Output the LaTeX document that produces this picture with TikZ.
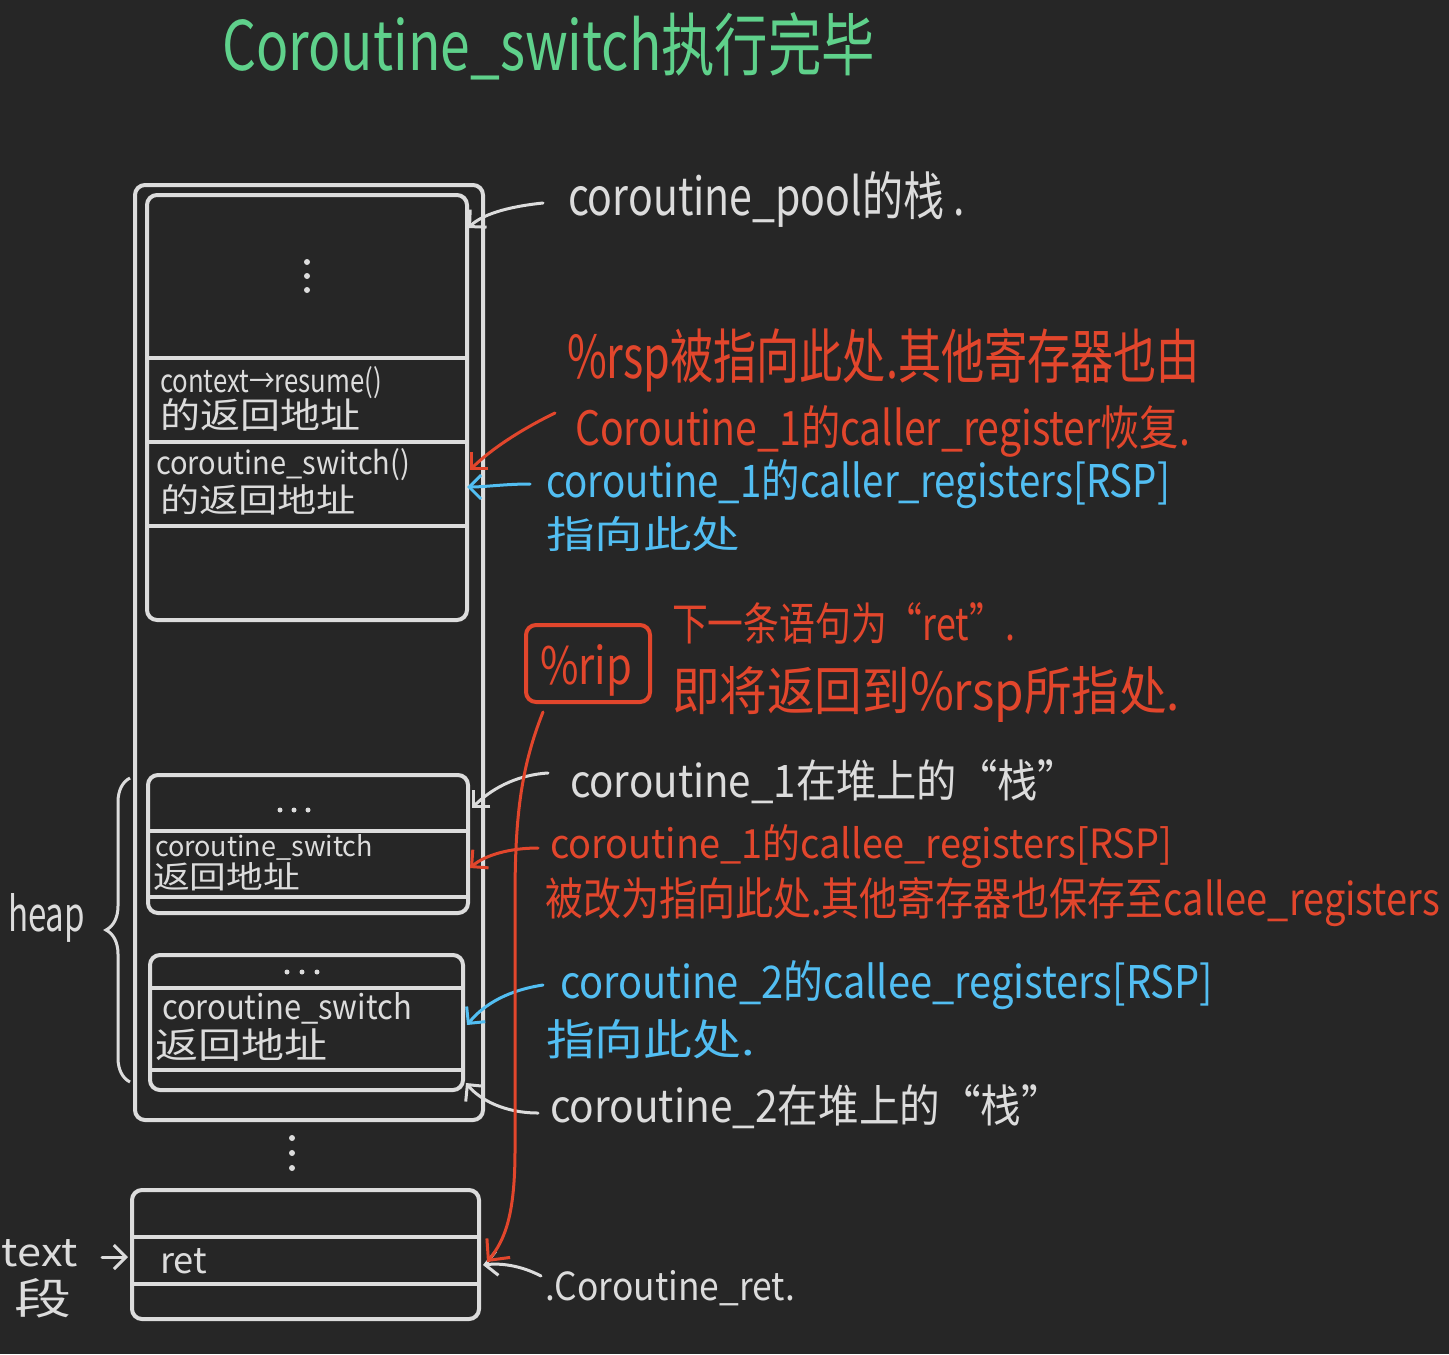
\documentclass[tikz,border=0pt]{standalone}
\usepackage{fontspec}
\setmainfont{Noto Sans CJK SC}
\usetikzlibrary{arrows.meta,decorations.pathreplacing}
\definecolor{bg}{HTML}{262626}
\definecolor{wht}{HTML}{DCDCDC}
\definecolor{grn}{HTML}{5FD18B}
\definecolor{rd}{HTML}{E2462C}
\definecolor{blu}{HTML}{52BEF2}
\newlength\pxu \setlength\pxu{0.5pt}
% width and height (above baseline) in reference pixels
\newcommand\fwh[3]{\resizebox{#1\pxu}{#2\pxu}{\fontsize{20}{24}\selectfont #3}}
\tikzset{
  lbl/.style={inner sep=0pt, outer sep=0pt, anchor=base west},
  boxn/.style={draw=wht, line width=2pt, rounded corners=5pt, inner sep=0pt},
  divl/.style={draw=wht, line width=2pt},
  tipw/.style={-{Straight Barb[length=6pt, width=12pt, line width=1.5pt]}},
  warr/.style={tipw, draw=wht, line width=1.5pt, line cap=round},
  rarr/.style={tipw, draw=rd, line width=1.5pt, line cap=round},
  barr/.style={tipw, draw=blu, line width=1.5pt, line cap=round},
  dotn/.style={circle, fill=wht, inner sep=0pt, minimum size=3pt},
}
\begin{document}
\begin{tikzpicture}[x=0.5pt,y=-0.5pt]
\useasboundingbox (0,0) rectangle (1449,1354);
\fill[bg] (0,0) rectangle (1449,1354);

% title
\node[lbl, text=grn] (title) at (222,70) {\fwh{653}{58}{Coroutine\_switch执行完毕}};

% outer stack box
\node[boxn, minimum width=174pt, minimum height=467.5pt] (outer) at (309,652.5) {};
% coroutine_pool stack
\node[boxn, minimum width=160pt, minimum height=212.5pt] (pool) at (307,407.5) {};
\draw[divl] (147,358) -- (467,358);
\draw[divl] (147,442) -- (467,442);
\draw[divl] (147,526) -- (467,526);
\node[dotn] (pd1) at (307,262) {};
\node[dotn] (pd2) at (307,276) {};
\node[dotn] (pd3) at (307,290) {};
\node[lbl, text=wht] (ctx1) at (160,392) {\fwh{222}{26}{context→resume()}};
\node[lbl, text=wht] (ctx2) at (160,428) {\fwh{200}{30}{的返回地址}};
\node[lbl, text=wht] (sw1) at (156,474) {\fwh{254}{26}{coroutine\_switch()}};
\node[lbl, text=wht] (sw2) at (160,512) {\fwh{196}{28}{的返回地址}};

% coroutine_1 heap stack
\node[boxn, minimum width=160pt, minimum height=69pt] (c1) at (308,844) {};
\draw[divl] (148,831) -- (468,831);
\draw[divl] (148,897) -- (468,897);
\node[dotn, minimum size=2.5pt] (c1d1) at (280,810) {};
\node[dotn, minimum size=2.5pt] (c1d2) at (294,810) {};
\node[dotn, minimum size=2.5pt] (c1d3) at (308,810) {};
\node[lbl, text=wht] (c1t1) at (155,856) {\fwh{218}{22}{coroutine\_switch}};
\node[lbl, text=wht] (c1t2) at (153,888) {\fwh{147}{26}{返回地址}};

% coroutine_2 heap stack
\node[boxn, minimum width=156.5pt, minimum height=67.5pt] (c2) at (306.5,1022.5) {};
\draw[divl] (150,988) -- (463,988);
\draw[divl] (150,1070) -- (463,1070);
\node[dotn, minimum size=2.5pt] (c2d1) at (287,972) {};
\node[dotn, minimum size=2.5pt] (c2d2) at (302,972) {};
\node[dotn, minimum size=2.5pt] (c2d3) at (317,972) {};
\node[lbl, text=wht] (c2t1) at (162,1019) {\fwh{250}{27}{coroutine\_switch}};
\node[lbl, text=wht] (c2t2) at (155,1058) {\fwh{172}{30}{返回地址}};

% heap brace
\node[lbl, text=wht] (heap) at (8,931) {\fwh{77}{38}{heap}};
\draw[decorate, decoration={brace, amplitude=12pt}, draw=wht, line width=1.5pt] (130,1082) -- (130,778);

% dots between
\node[dotn] (md1) at (292,1138) {};
\node[dotn] (md2) at (292,1153) {};
\node[dotn] (md3) at (292,1168) {};

% text segment
\node[boxn, minimum width=173.5pt, minimum height=64.5pt] (tseg) at (305.5,1254.5) {};
\draw[divl] (132,1237) -- (479,1237);
\draw[divl] (132,1284) -- (479,1284);
\node[lbl, text=wht] (ret) at (160,1273) {\fwh{47}{25}{ret}};
\node[lbl, text=wht] (textl) at (2,1266) {\fwh{76}{27}{text}};
\node[lbl, text=wht] (duan) at (15,1314) {\fwh{57}{36}{段}};
\coordinate (ta) at (102,1257);
\coordinate (tb) at (128,1257);
\draw[warr] (ta) -- (tb);

% right labels
\node[lbl, text=wht] (poolL) at (568,215) {\fwh{397}{44}{coroutine\_pool的栈 .}};
\node[lbl, text=rd] (r1) at (567,378) {\fwh{633}{50}{\%rsp被指向此处.其他寄存器也由}};
\node[lbl, text=rd] (r2) at (575,445) {\fwh{615}{40}{Coroutine\_1的caller\_register恢复.}};
\node[lbl, text=blu] (b1) at (546,497) {\fwh{624}{38}{coroutine\_1的caller\_registers[RSP]}};
\node[lbl, text=blu] (b2) at (546,548) {\fwh{194}{32}{指向此处}};

\node[draw=rd, line width=2pt, rounded corners=5pt, minimum width=62pt, minimum height=38.5pt, inner sep=0pt] (rip) at (588,663.5) {};
\node[lbl, text=rd] (ript) at (540,684) {\fwh{92}{40}{\%rip}};
\node[lbl, text=rd] (r3) at (672,640) {\fwh{343}{38}{下一条语句为“ret”.}};
\node[lbl, text=rd] (r4) at (672,710) {\fwh{508}{44}{即将返回到\%rsp所指处.}};

\node[lbl, text=wht] (w1) at (570,797) {\fwh{508}{38}{coroutine\_1在堆上的“栈”}};
\node[lbl, text=rd] (r5) at (550,858) {\fwh{622}{34}{coroutine\_1的callee\_registers[RSP]}};
\node[lbl, text=rd] (r6) at (545,915) {\fwh{895}{38}{被改为指向此处.其他寄存器也保存至callee\_registers}};
\node[lbl, text=blu] (b3) at (560,998) {\fwh{653}{38}{coroutine\_2的callee\_registers[RSP]}};
\node[lbl, text=blu] (b4) at (546,1055) {\fwh{209}{36}{指向此处.}};
\node[lbl, text=wht] (w2) at (550,1122) {\fwh{512}{38}{coroutine\_2在堆上的“栈”}};
\node[lbl, text=wht] (w3) at (545,1300) {\fwh{250}{30}{.Coroutine\_ret.}};

% arrows
\coordinate (a1s) at (543,203);  \coordinate (a1e) at (468,228);
\coordinate (a2s) at (555,413);  \coordinate (a2e) at (470,470);
\coordinate (a3s) at (530,484);  \coordinate (a3e) at (467,487);
\coordinate (a4s) at (548,773);  \coordinate (a4e) at (472,808);
\coordinate (a5s) at (538,848);  \coordinate (a5e) at (470,868);
\coordinate (a6s) at (543,985);  \coordinate (a6e) at (467,1025);
\coordinate (a7s) at (538,1113); \coordinate (a7e) at (466,1083);
\coordinate (a8s) at (541,1276); \coordinate (a8e) at (483,1265);
\coordinate (rls) at (543,712);  \coordinate (rle) at (487,1262);

\draw[warr] (a1s) .. controls (505,207) and (482,215) .. (a1e);
\draw[rarr] (a2s) .. controls (520,430) and (490,450) .. (a2e);
\draw[barr] (a3s) .. controls (505,484) and (485,487) .. (a3e);
\draw[warr] (a4s) .. controls (515,775) and (490,790) .. (a4e);
\draw[rarr] (a5s) .. controls (510,848) and (485,855) .. (a5e);
\draw[barr] (a6s) .. controls (510,990) and (485,1003) .. (a6e);
\draw[warr] (a7s) .. controls (505,1113) and (480,1100) .. (a7e);
\draw[warr] (a8s) .. controls (520,1265) and (500,1263) .. (a8e);
\draw[draw=rd, line width=1.5pt, line cap=round, -{Straight Barb[length=8pt, width=15pt, line width=1.5pt]}]
  (rls) .. controls (520,770) and (515,820) .. (515,900) -- (515,1150) .. controls (515,1215) and (505,1240) .. (rle);
\end{tikzpicture}
\end{document}
